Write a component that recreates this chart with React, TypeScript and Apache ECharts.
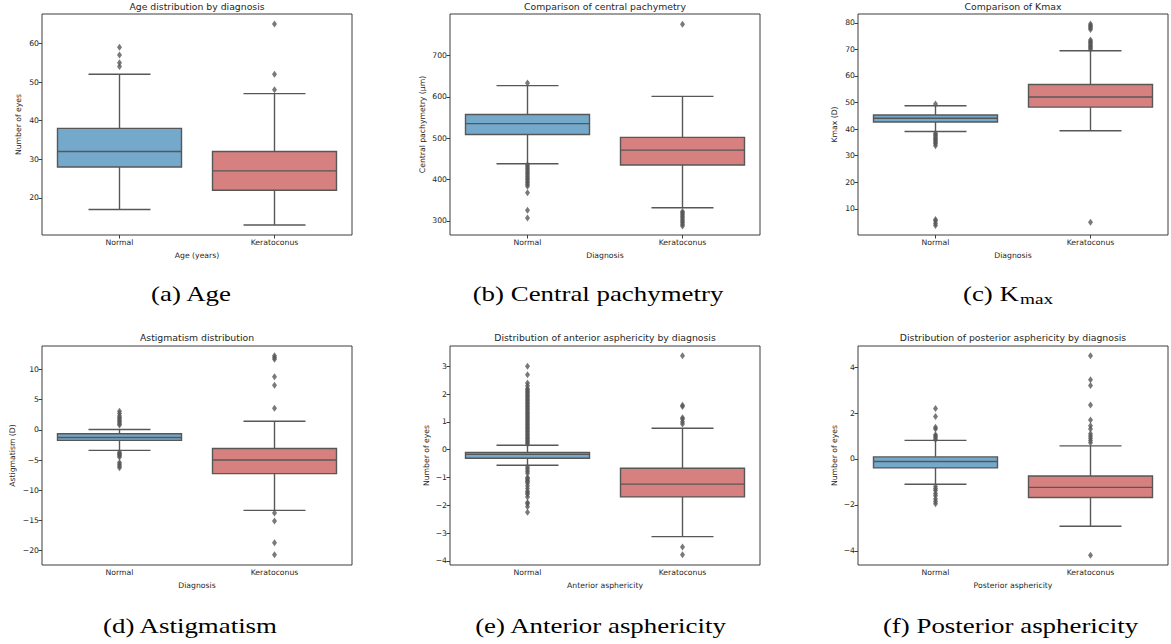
import React, { useEffect, useRef } from 'react';
import * as echarts from 'echarts';

const categories = ['Normal', 'Keratoconus'];

// Box statistics per category: [lower whisker, Q1, median, Q3, upper whisker]
const ageBoxes = [[17, 28, 32, 38, 52], [13, 22, 27, 32, 47]];
const ageOutliersNormal = [54, 55, 57, 59];
const ageOutliersKeratoconus = [48, 52, 65];
const ageTicks = [20, 30, 40, 50, 60];

const pachyBoxes = [[438, 509, 535, 557, 627], [332, 435, 471, 502, 601]];
const pachyOutliersNormal = [633, 436, 432, 428, 424, 420, 416, 412, 408, 404, 400, 396, 392, 388, 384, 368, 326, 307];
const pachyOutliersKeratoconus = [775, 323, 320, 316, 312, 308, 304, 300, 296, 292, 288];
const pachyTicks = [300, 400, 500, 600, 700];

const kmaxBoxes = [[39.1, 42.7, 44.1, 45.3, 48.8], [39.4, 48.3, 52.1, 56.8, 69.5]];
const kmaxOutliersNormal = [49.5, 38.5, 38, 37.5, 37, 36.5, 36, 35.5, 35, 34.5, 33.8, 6, 5.5, 4.5, 3.8];
const kmaxOutliersKeratoconus = [79.5, 79, 78.5, 78, 77.5, 73.5, 73, 72.5, 72, 71.5, 71, 70.5, 70, 5];
const kmaxTicks = [10, 20, 30, 40, 50, 60, 70, 80];

const astigBoxes = [[-3.4, -1.75, -1.26, -0.65, 0.05], [-13.35, -7.25, -5.0, -3.1, 1.43]];
const astigOutliersNormal = [3.1, 2.7, 2.3, 2.0, 1.8, 1.5, 1.3, 1.0, 0.8, -3.7, -3.9, -4.1, -4.3, -4.5, -5.4, -5.7, -6.0, -6.3];
const astigOutliersKeratoconus = [12.3, 12.0, 11.7, 8.8, 7.4, 3.6, -13.8, -15.1, -18.7, -20.7];
const astigTicks = [-20, -15, -10, -5, 0, 5, 10];

const antBoxes = [[-0.56, -0.31, -0.17, -0.1, 0.16], [-3.13, -1.7, -1.24, -0.67, 0.77]];
const antOutliersNormal = [
  0.2, 0.25, 0.3, 0.35, 0.4, 0.45, 0.5, 0.55, 0.6, 0.65, 0.7, 0.75, 0.8, 0.85, 0.9, 0.95, 1.0, 1.05,
  1.1, 1.15, 1.2, 1.25, 1.3, 1.35, 1.4, 1.45, 1.5, 1.55, 1.6, 1.65, 1.7, 1.75, 1.8, 1.85, 1.9, 1.95,
  2.0, 2.05, 2.1, 2.15, 2.2, 2.3, 2.4, 2.7, 3.0,
  -0.62, -0.7, -0.78, -0.85, -1.0, -1.05, -1.1, -1.15, -1.2, -1.3, -1.4, -1.5, -1.55, -1.6, -1.7,
  -1.9, -1.95, -2.05, -2.25,
];
const antOutliersKeratoconus = [0.92, 1.0, 1.1, 1.15, 1.55, 1.6, 3.38, -3.5, -3.78];
const antTicks = [-4, -3, -2, -1, 0, 1, 2, 3];

const postBoxes = [[-1.1, -0.39, -0.11, 0.09, 0.81], [-2.93, -1.68, -1.24, -0.74, 0.57]];
const postOutliersNormal = [0.85, 0.92, 1.0, 1.05, 1.3, 1.38, 1.85, 2.2, -1.2, -1.3, -1.38, -1.5, -1.6, -1.75, -1.85, -1.95];
const postOutliersKeratoconus = [0.7, 0.8, 0.9, 1.0, 1.1, 1.3, 1.45, 1.7, 2.35, 3.2, 3.45, 4.5, -4.2];
const postTicks = [-4, -2, 0, 2, 4];

const panels = [
  { title: 'Age distribution by diagnosis', xName: 'Age (years)', yName: 'Number of eyes', boxes: ageBoxes, outliers: [ageOutliersNormal, ageOutliersKeratoconus], ticks: ageTicks, min: 10.4, max: 67.6, yGap: 20 },
  { title: 'Comparison of central pachymetry', xName: 'Diagnosis', yName: 'Central pachymetry (µm)', boxes: pachyBoxes, outliers: [pachyOutliersNormal, pachyOutliersKeratoconus], ticks: pachyTicks, min: 266, max: 800, yGap: 24 },
  { title: 'Comparison of Kmax', xName: 'Diagnosis', yName: 'Kmax (D)', boxes: kmaxBoxes, outliers: [kmaxOutliersNormal, kmaxOutliersKeratoconus], ticks: kmaxTicks, min: 0.2, max: 83.3, yGap: 20 },
  { title: 'Astigmatism distribution', xName: 'Diagnosis', yName: 'Astigmatism (D)', boxes: astigBoxes, outliers: [astigOutliersNormal, astigOutliersKeratoconus], ticks: astigTicks, min: -22.4, max: 13.9, yGap: 26 },
  { title: 'Distribution of anterior asphericity by diagnosis', xName: 'Anterior asphericity', yName: 'Number of eyes', boxes: antBoxes, outliers: [antOutliersNormal, antOutliersKeratoconus], ticks: antTicks, min: -4.15, max: 3.73, yGap: 20 },
  { title: 'Distribution of posterior asphericity by diagnosis', xName: 'Posterior asphericity', yName: 'Number of eyes', boxes: postBoxes, outliers: [postOutliersNormal, postOutliersKeratoconus], ticks: postTicks, min: -4.62, max: 4.92, yGap: 20 },
];

const boxColors = ['#75a9cb', '#d68080'];
const lineColor = '#575757';
const frameColor = '#3c3c3c';
const textColor = '#262626';
const sans = 'DejaVu Sans';
const serif = 'Liberation Serif';

const gridLefts = [42, 450, 858];
const gridTops = [14, 346];
const gridHeights = [221, 219];
const gridWidth = 310;
const titleYs = [6, 337.5];

const fmt = (v: number) => String(v).replace('-', '\u2212');

function buildOption() {
  const grid: any[] = [];
  const xAxis: any[] = [];
  const yAxis: any[] = [];
  const series: any[] = [];
  const graphic: any[] = [];

  panels.forEach((p, i) => {
    const row = Math.floor(i / 3);
    const col = i % 3;
    const left = gridLefts[col];
    const top = gridTops[row];
    grid.push({
      left, top, width: gridWidth, height: gridHeights[row],
      show: true, borderColor: frameColor, borderWidth: 1, backgroundColor: 'transparent',
    });
    xAxis.push({
      type: 'category', gridIndex: i, data: categories, boundaryGap: true,
      axisLine: { show: false },
      axisTick: { show: true, alignWithLabel: true, length: 3.5, lineStyle: { color: frameColor } },
      axisLabel: { fontSize: 7.7, color: textColor, margin: 3, fontFamily: sans },
      splitLine: { show: false },
      name: p.xName, nameLocation: 'middle', nameGap: 16,
      nameTextStyle: { fontSize: 7.7, color: textColor, fontFamily: sans },
    });
    yAxis.push({
      type: 'value', gridIndex: i, min: p.min, max: p.max,
      axisLine: { show: false },
      axisTick: { show: true, length: 3.5, lineStyle: { color: frameColor }, customValues: p.ticks },
      axisLabel: { fontSize: 7.7, color: textColor, margin: 3, fontFamily: sans, customValues: p.ticks, formatter: (v: number) => fmt(v) },
      splitLine: { show: false },
      name: p.yName, nameLocation: 'middle', nameGap: p.yGap,
      nameTextStyle: { fontSize: 7.7, color: textColor, fontFamily: sans },
    });
    series.push({
      type: 'custom', xAxisIndex: i, yAxisIndex: i,
      encode: { x: 0, y: [1, 2, 3, 4, 5] },
      data: p.boxes.map((b, k) => [k, ...b]),
      renderItem: (params: any, api: any) => {
        const cat = api.value(0);
        const pLow = api.coord([cat, api.value(1)]);
        const pQ1 = api.coord([cat, api.value(2)]);
        const pMed = api.coord([cat, api.value(3)]);
        const pQ3 = api.coord([cat, api.value(4)]);
        const pHigh = api.coord([cat, api.value(5)]);
        const band = api.size([1, 0])[0];
        const boxW = band * 0.8;
        const capW = boxW * 0.5;
        const x = pLow[0];
        const ls = { stroke: lineColor, lineWidth: 1.4 };
        return {
          type: 'group',
          children: [
            { type: 'line', shape: { x1: x, y1: pQ3[1], x2: x, y2: pHigh[1] }, style: ls },
            { type: 'line', shape: { x1: x, y1: pQ1[1], x2: x, y2: pLow[1] }, style: ls },
            { type: 'line', shape: { x1: x - capW / 2, y1: pHigh[1], x2: x + capW / 2, y2: pHigh[1] }, style: ls },
            { type: 'line', shape: { x1: x - capW / 2, y1: pLow[1], x2: x + capW / 2, y2: pLow[1] }, style: ls },
            { type: 'rect', shape: { x: x - boxW / 2, y: pQ3[1], width: boxW, height: pQ1[1] - pQ3[1] }, style: { fill: boxColors[params.dataIndex], stroke: lineColor, lineWidth: 1.4 } },
            { type: 'line', shape: { x1: x - boxW / 2, y1: pMed[1], x2: x + boxW / 2, y2: pMed[1] }, style: ls },
          ],
        };
      },
      z: 2,
    });
    series.push({
      type: 'scatter', xAxisIndex: i, yAxisIndex: i,
      symbol: 'diamond', symbolSize: [5, 7],
      itemStyle: { color: lineColor },
      data: [
        ...p.outliers[0].map((v) => [0, v]),
        ...p.outliers[1].map((v) => [1, v]),
      ],
      z: 3,
    });
    graphic.push({
      type: 'text', x: left + gridWidth / 2, y: titleYs[row],
      style: { text: p.title, fontSize: 9.3, fontFamily: sans, fill: textColor, textAlign: 'center', textVerticalAlign: 'middle' },
    });
  });

  const capStyle = (text: string, size = 21) => ({ text, fontSize: size, fontFamily: serif, fill: '#000', textAlign: 'center', textVerticalAlign: 'middle' });
  graphic.push({ type: 'text', x: 191, y: 294, scaleX: 1.28, style: capStyle('(a) Age') });
  graphic.push({ type: 'text', x: 598, y: 294, scaleX: 1.28, style: capStyle('(b) Central pachymetry') });
  graphic.push({ type: 'text', x: 963, y: 294, scaleX: 1.28, style: { ...capStyle('(c) K'), textAlign: 'left' } });
  graphic.push({ type: 'text', x: 1020, y: 299, scaleX: 1.28, style: { ...capStyle('max', 15), textAlign: 'left' } });
  graphic.push({ type: 'text', x: 190, y: 626, scaleX: 1.28, style: capStyle('(d) Astigmatism') });
  graphic.push({ type: 'text', x: 600.5, y: 626, scaleX: 1.28, style: capStyle('(e) Anterior asphericity') });
  graphic.push({ type: 'text', x: 1010.5, y: 626, scaleX: 1.28, style: capStyle('(f) Posterior asphericity') });

  return { animation: false, backgroundColor: '#fff', grid, xAxis, yAxis, series, graphic };
}

export default function App() {
  const ref = useRef<HTMLDivElement>(null);
  useEffect(() => {
    if (!ref.current) return;
    const chart = echarts.init(ref.current, undefined, { renderer: 'svg' });
    chart.setOption(buildOption() as any);
    return () => chart.dispose();
  }, []);
  return <div ref={ref} style={{ position: 'absolute', left: 0, top: 0, width: 1171, height: 644 }} />;
}
